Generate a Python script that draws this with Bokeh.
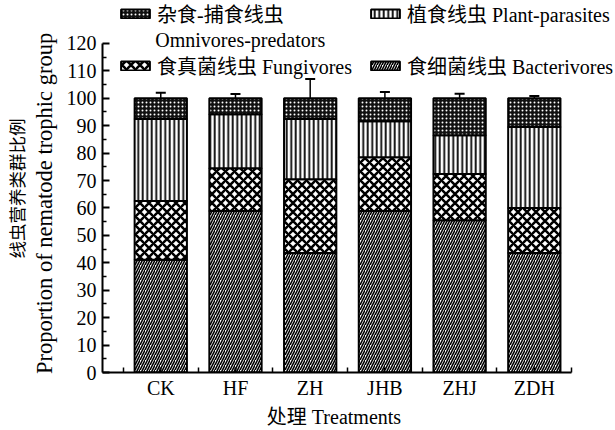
import numpy as np
from bokeh.plotting import figure
from bokeh.models import (ColumnDataSource, FixedTicker, Range1d, Legend, LegendItem,
                          Label, Whisker, TeeHead, LinearAxis)
from bokeh.embed import file_html
from bokeh.resources import INLINE

# ---------------- data ----------------
categories = ["CK", "HF", "ZH", "JHB", "ZHJ", "ZDH"]
bacterivores = [41.1, 58.9, 43.6, 58.9, 55.5, 43.6]
fungivores = [21.4, 15.6, 26.9, 19.6, 16.9, 16.4]
plant_parasites = [29.9, 19.7, 21.9, 13.1, 14.1, 29.5]
omnivores = [7.6, 5.8, 7.6, 8.4, 13.5, 10.5]
bact_err = [4.7, 6.0, 14.6, 7.0, 6.2, 13.0]
fung_err = [5.5, 3.3, 4.0, 1.0, 2.4, 0.8]
plant_err = [1.5, 1.5, 2.0, 2.0, 1.5, 1.0]
omni_err = [2.0, 1.5, 7.0, 2.3, 1.6, 0.8]
y_ticks = list(range(0, 121, 10))
y_minor = list(range(5, 120, 10))
label_omni_cn = "杂食-捕食线虫"
label_omni_en = "Omnivores-predators"
label_plant = "植食线虫 Plant-parasites"
label_fung = "食真菌线虫 Fungivores"
label_bact = "食细菌线虫 Bacterivores"
x_title = "处理 Treatments"
y_title_cn = "线虫营养类群比例"
y_title_en = "Proportion of nematode trophic group"

# ---------------- layout ----------------
W, H = 615, 430
BL, BR, BT, BB = 100, 0, 0, 57          # frame spans to the top/right edge
FW, FH = W - BL - BR, H - BT - BB
PX_PER_CAT = 75.0
PX_PER_UNIT = 2.75
X0 = 0.22
X1 = X0 + FW / PX_PER_CAT
Y0 = 0
Y1 = FH / PX_PER_UNIT
XB = (X0, 6.5)        # drawn extent of the x axis
YB = (0, 120)         # drawn extent of the y axis
NBSP = "\u00a0"

SERIF = "Liberation Serif"
MIXED = "Liberation Serif, Noto Sans CJK SC"
CJK = "Noto Sans CJK SC"


def dx(page_x):
    return X0 + (page_x - BL) / FW * (X1 - X0)


def dy(page_y):
    return Y0 + (H - BB - page_y) / FH * (Y1 - Y0)


xs = np.arange(1, len(categories) + 1)
b = np.array(bacterivores)
f = np.array(fungivores)
pl = np.array(plant_parasites)
o = np.array(omnivores)
c1 = b
c2 = b + f
c3 = c2 + pl
c4 = c3 + o

p = figure(width=W, height=H, output_backend="svg", toolbar_location=None,
           x_range=Range1d(X0, X1), y_range=Range1d(Y0, Y1),
           min_border_left=BL, min_border_right=BR, min_border_top=BT, min_border_bottom=BB)
p.outline_line_color = None
p.xgrid.visible = False
p.ygrid.visible = False
p.background_fill_color = "white"
p.border_fill_color = "white"

src = ColumnDataSource(dict(x=xs, c0=np.zeros(len(xs)), c1=c1, c2=c2, c3=c3, c4=c4))
BW = 0.7
r_b = p.vbar(x="x", bottom="c0", top="c1", width=BW, source=src, fill_color="white",
             line_color="black", line_width=2, hatch_pattern="right_diagonal_line",
             hatch_color="black", hatch_scale=5, hatch_weight=1.6)
r_f = p.vbar(x="x", bottom="c1", top="c2", width=BW, source=src, fill_color="white",
             line_color="black", line_width=2, hatch_pattern="diagonal_cross",
             hatch_color="black", hatch_scale=9, hatch_weight=2.5)
r_p = p.vbar(x="x", bottom="c2", top="c3", width=BW, source=src, fill_color="white",
             line_color="black", line_width=2, hatch_pattern="vertical_line",
             hatch_color="black", hatch_scale=4.5, hatch_weight=1.8)
r_o = p.vbar(x="x", bottom="c3", top="c4", width=BW, source=src, fill_color="#111111",
             line_color="black", line_width=2, hatch_pattern="dot",
             hatch_color="white", hatch_scale=4, hatch_weight=1.8)

# error bars (upper only)
for tops, errs in [(c1, bact_err), (c2, fung_err), (c3, plant_err), (c4, omni_err)]:
    es = ColumnDataSource(dict(x=xs, lo=tops, hi=tops + np.array(errs)))
    w = Whisker(source=es, base="x", lower="lo", upper="hi", dimension="height",
                line_color="black", line_width=1.5, lower_head=None,
                upper_head=TeeHead(size=10, line_width=2, line_color="black"))
    p.add_layout(w)

# axes
xa = p.xaxis[0]
ya = p.yaxis[0]
xa.ticker = FixedTicker(ticks=list(xs), minor_ticks=list(xs - 0.5) + [xs[-1] + 0.5])
xa.major_label_overrides = {int(i): c for i, c in zip(xs, categories)}
xa.bounds = XB
ya.ticker = FixedTicker(ticks=y_ticks, minor_ticks=y_minor)
ya.bounds = YB
for ax in (xa, ya):
    ax.axis_line_width = 2
    ax.axis_line_color = "black"
    ax.major_tick_line_width = 2
    ax.minor_tick_line_width = 1.5
    ax.major_tick_out = 0
    ax.minor_tick_out = 0
    ax.major_label_text_font = SERIF
    ax.major_label_text_font_size = "20px"
    ax.major_label_text_color = "black"
xa.major_tick_in = 5
xa.minor_tick_in = 5
ya.major_tick_in = 7
ya.minor_tick_in = 4
xa.major_label_standoff = 4
ya.major_label_standoff = 6

# axis titles; trailing no-break spaces shift the centred text to where the original sits
xa.axis_label = x_title + NBSP * 10
xa.axis_label_text_font = MIXED
xa.axis_label_text_font_size = "20px"
xa.axis_label_text_font_style = "normal"
xa.axis_label_standoff = 4
xa.axis_label_text_color = "black"

ya.axis_label = y_title_en + NBSP * 6
ya.axis_label_text_font = SERIF
ya.axis_label_text_font_size = "22.5px"
ya.axis_label_text_font_style = "normal"
ya.axis_label_standoff = 7
ya.axis_label_text_color = "black"

# second (outer) left axis carrying only the Chinese title line
ya2 = LinearAxis(ticker=FixedTicker(ticks=[]), bounds=(0, 133),
                 axis_line_color=None, major_tick_in=0, major_tick_out=0,
                 minor_tick_in=0, minor_tick_out=0, major_label_standoff=0,
                 axis_label=y_title_cn + NBSP, axis_label_text_font=CJK,
                 axis_label_text_font_size="17.5px", axis_label_text_font_style="normal",
                 axis_label_standoff=0, axis_label_text_color="black")
p.add_layout(ya2, "left")

p.add_layout(Label(x=dx(153), y=dy(40), text=label_omni_en, text_font=SERIF, text_font_size="20px",
                   text_align="left", text_baseline="middle", text_color="black"))

ITEM_H = 32


def make_legend(renderer, text, page_x, page_y_center):
    lg = Legend(items=[LegendItem(label=text, renderers=[renderer])],
                location=(page_x - BL, (H - BB) - page_y_center - ITEM_H / 2),
                glyph_width=36, glyph_height=11, label_standoff=4, padding=0, margin=0,
                spacing=0, border_line_color=None, background_fill_alpha=0,
                label_text_font=MIXED, label_text_font_size="20px", label_height=20,
                label_text_color="black")
    p.add_layout(lg)


make_legend(r_o, label_omni_cn, 115, 13)
make_legend(r_p, label_plant, 365, 13)
make_legend(r_f, label_fung, 115, 65)
make_legend(r_b, label_bact, 365, 65)

open("out.html", "w").write(file_html(p, INLINE))
